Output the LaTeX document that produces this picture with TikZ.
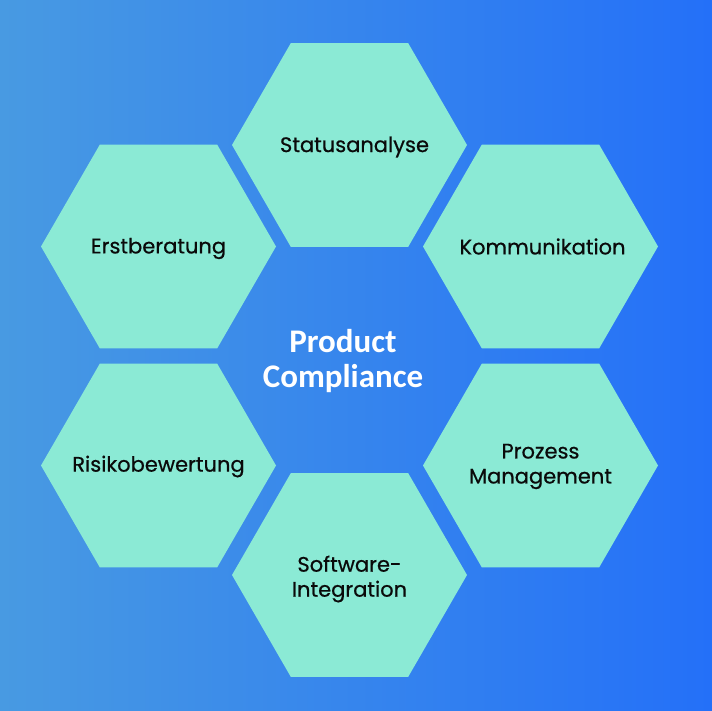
\documentclass[tikz,border=0pt]{standalone}
\usepackage{fontspec}
\setmainfont{Poppins}[FakeBold=0.6]
\newfontfamily\centerfont{Carlito}
\usetikzlibrary{shapes.geometric}
\definecolor{bgleft}{RGB}{72,154,226}
\definecolor{bgright}{RGB}{36,112,248}
\definecolor{mint}{RGB}{139,234,213}
\definecolor{labelink}{RGB}{10,10,10}
\tikzset{
  hexa/.style={regular polygon, regular polygon sides=6,
    minimum size=235pt, inner sep=0pt, fill=mint, draw=none},
  hexlabel/.style={font=\fontsize{21}{25}\selectfont, text=labelink, align=center},
  centerlabel/.style={font=\centerfont\bfseries\fontsize{33}{35}\selectfont, text=white, align=center}
}
\begin{document}
\begin{tikzpicture}[x=1pt,y=-1pt]
\shade[left color=bgleft, right color=bgright] (0,0) rectangle (712,711);
\useasboundingbox (0,0) rectangle (712,711);
\node[hexa] (status) at (349.5,145) {};
\node[hexa] (erst) at (158.5,246.5) {};
\node[hexa] (komm) at (540.5,246.5) {};
\node[hexa] (risiko) at (158.5,465.5) {};
\node[hexa] (prozess) at (540.5,465.5) {};
\node[hexa] (software) at (349.5,575) {};
\node[hexlabel] (tstatus) at ([xshift=5pt,yshift=-2pt]status.center) {Statusanalyse};
\node[hexlabel] (terst) at ([yshift=-2pt]erst.center) {Erstberatung};
\node[hexlabel] (tkomm) at ([xshift=2pt]komm.center) {Kommunikation};
\node[hexlabel] (trisiko) at ([yshift=-1pt]risiko.center) {Risikobewertung};
\node[hexlabel] (tprozess) at ([yshift=-1pt]prozess.center) {Prozess\\Management};
\node[hexlabel] (tsoftware) at ([yshift=-4pt]software.center) {Software-\\Integration};
\node[centerlabel] (center) at (343,361) {Product\\Compliance};
\end{tikzpicture}
\end{document}
